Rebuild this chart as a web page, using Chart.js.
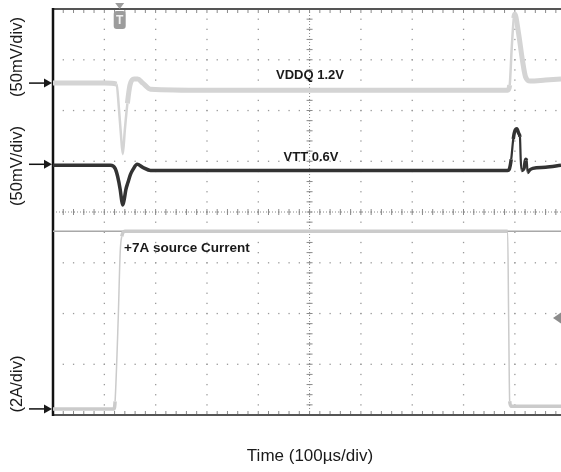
<!DOCTYPE html>
<html>
<head>
<meta charset="utf-8">
<script src="https://cdn.jsdelivr.net/npm/chart.js@4.4.1/dist/chart.umd.min.js"></script>
<style>
  body { margin: 0; background: #fff; }
</style>
</head>
<body>
<canvas id="scope" width="561" height="472"></canvas>
<script>
// VDDQ 1.2V channel: deviation in mV, time in us
const vddqTime = [0, 100, 124, 128, 132, 136, 140, 145, 150, 158, 165, 175, 190, 300, 600, 886, 890, 894, 898, 900, 907, 915, 921, 930, 960, 990];
const vddqMv   = [0, 0,   -1,  -22, -48, -70, -46, -20, -2,  4,   4,   0,   -6,  -7,  -7,  -7,  -2,  35,  64,  68,  50,  22,  6,   2,   3,   4];

// VTT 0.6V channel: deviation in mV
const vttTime = [0,  112, 121, 126, 131, 134, 136, 139, 142, 146, 151, 156, 164, 175, 190, 300, 600, 886, 889, 893, 897, 901, 904, 908, 910, 911.5, 913, 918, 921, 923, 925, 928, 935, 960, 990];
const vttMv   = [-1, -1,  -4,  -12, -25, -36, -40, -34, -25, -18, -10, -5,  0,   -3,  -6,  -6,  -6,  -6,  -5,  5,   25,  34,  35,  30,  27,  5,     -6,  -4,  5,   4,   -8,  -6,  -4,  -3,  -1];

// source current channel in A
const currTime = [0, 119, 121, 127, 131, 134, 140, 500, 886, 888, 890, 893, 990];
const currA    = [0, 0,   0.3, 3.5, 6.2, 6.8, 7,   7,   7,   3.5, 0.3, 0.1, 0.1];

// +7A cursor line
const refTime = [0, 990];
const refA    = [7, 7];

// channel ground markers (divisions from bottom) and scale per division
const vddqPos = 6.54, vttPos = 4.94, currPos = 0.12;
const mvPerDiv = 50, ampPerDiv = 2;
const trigTime = 130;

const FONT = '"Liberation Sans", Arial, sans-serif';

function pts(t, v, pos, perDiv) {
  return t.map((x, i) => ({ x: x, y: pos + v[i] / perDiv }));
}

// fast edges are drawn thinner than the noisy flat parts, like on a scope
function edgeWidth(flat, steep) {
  return ctx => {
    const dx = Math.abs(ctx.p1.parsed.x - ctx.p0.parsed.x);
    const dy = Math.abs(ctx.p1.parsed.y - ctx.p0.parsed.y);
    return dy / Math.max(dx, 0.1) > 0.08 ? steep : flat;
  };
}

const scopePlugin = {
  id: 'scope',
  beforeDatasetsDraw(chart) {
    const ctx = chart.ctx;
    const xs = chart.scales.x, ys = chart.scales.y;
    const a = chart.chartArea;
    ctx.save();
    ctx.fillStyle = '#9a9a9a';
    // dotted vertical grid lines
    for (let i = 1; i <= 9; i++) {
      const x = xs.getPixelForValue(i * 100);
      for (let k = 0; k <= 40; k++) {
        const y = ys.getPixelForValue(k / 5);
        ctx.fillRect(x - 0.6, y - 0.6, 1.3, 1.3);
      }
    }
    // dotted horizontal grid lines
    for (let j = 1; j <= 7; j++) {
      const y = ys.getPixelForValue(j);
      for (let k = 0; k <= 49; k++) {
        const x = xs.getPixelForValue(k * 20);
        ctx.fillRect(x - 0.6, y - 0.6, 1.3, 1.3);
      }
    }
    // centre cross ticks
    ctx.strokeStyle = '#8a8a8a';
    ctx.lineWidth = 1;
    const cx = xs.getPixelForValue(500), cy = ys.getPixelForValue(4);
    ctx.beginPath();
    for (let k = 0; k <= 40; k++) {
      const y = ys.getPixelForValue(k / 5);
      ctx.moveTo(cx - 3, y); ctx.lineTo(cx + 3, y);
    }
    for (let k = 0; k <= 49; k++) {
      const x = xs.getPixelForValue(k * 20);
      ctx.moveTo(x, cy - 3); ctx.lineTo(x, cy + 3);
      ctx.moveTo(x, a.top); ctx.lineTo(x, a.top + 4);
      ctx.moveTo(x, a.bottom); ctx.lineTo(x, a.bottom - 4);
    }
    ctx.stroke();
    ctx.setLineDash([1, 2]);
    ctx.beginPath();
    ctx.moveTo(a.left, cy); ctx.lineTo(a.right, cy);
    ctx.moveTo(cx, a.top); ctx.lineTo(cx, a.bottom);
    ctx.stroke();
    ctx.setLineDash([]);
    // frame
    ctx.strokeStyle = '#555';
    ctx.lineWidth = 2;
    ctx.beginPath();
    ctx.moveTo(a.left, a.top); ctx.lineTo(a.right, a.top);
    ctx.moveTo(a.left, a.bottom); ctx.lineTo(a.right, a.bottom);
    ctx.stroke();
    ctx.strokeStyle = '#111';
    ctx.lineWidth = 2.5;
    ctx.beginPath();
    ctx.moveTo(a.left, a.top - 1); ctx.lineTo(a.left, a.bottom + 1);
    ctx.stroke();
    ctx.restore();
  },
  afterDatasetsDraw(chart) {
    const ctx = chart.ctx;
    const xs = chart.scales.x, ys = chart.scales.y;
    const a = chart.chartArea;
    ctx.save();
    ctx.fillStyle = '#1a1a1a';
    ctx.textAlign = 'center';
    ctx.textBaseline = 'middle';
    ctx.font = 'bold 13px ' + FONT;
    ctx.fillText('VDDQ 1.2V', 310, 75);
    ctx.fillText('VTT 0.6V', 311, 157);
    ctx.textAlign = 'left';
    ctx.font = 'bold 13.5px ' + FONT;
    ctx.fillText('+7A source Current', 124, 248);

    // channel labels and ground arrows
    ctx.font = '16.5px ' + FONT;
    ctx.textAlign = 'center';
    [['(50mV/div)', 57], ['(50mV/div)', 166], ['(2A/div)', 384]].forEach(l => {
      ctx.save();
      ctx.translate(17, l[1]);
      ctx.rotate(-Math.PI / 2);
      ctx.fillText(l[0], 0, 0);
      ctx.restore();
    });
    ctx.strokeStyle = '#111';
    ctx.lineWidth = 1.5;
    [vddqPos, vttPos, currPos].forEach(p => {
      const y = ys.getPixelForValue(p);
      ctx.beginPath();
      ctx.moveTo(29, y); ctx.lineTo(46, y);
      ctx.stroke();
      ctx.beginPath();
      ctx.moveTo(a.left - 1, y); ctx.lineTo(44, y - 4.5); ctx.lineTo(44, y + 4.5);
      ctx.closePath();
      ctx.fill();
    });

    ctx.font = '17px ' + FONT;
    ctx.fillText('Time (100\u00b5s/div)', 310, 456);

    // trigger marker
    const tx = xs.getPixelForValue(trigTime);
    ctx.fillStyle = '#9c9c9c';
    ctx.beginPath();
    ctx.moveTo(tx - 4.5, a.top - 6); ctx.lineTo(tx + 4.5, a.top - 6); ctx.lineTo(tx, a.top);
    ctx.closePath();
    ctx.fill();
    ctx.beginPath();
    ctx.roundRect(tx - 6, a.top + 2, 12, 18, 3);
    ctx.fill();
    ctx.fillStyle = '#f0f0f0';
    ctx.font = 'bold 12px ' + FONT;
    ctx.fillText('T', tx, a.top + 11.5);

    // right side level marker
    ctx.fillStyle = '#8c8c8c';
    ctx.beginPath();
    ctx.moveTo(553, 318); ctx.lineTo(561, 312.5); ctx.lineTo(561, 323.5);
    ctx.closePath();
    ctx.fill();
    ctx.restore();
  }
};

new Chart(document.getElementById('scope').getContext('2d'), {
  type: 'line',
  data: {
    datasets: [
      {
        label: 'VDDQ 1.2V',
        data: pts(vddqTime, vddqMv, vddqPos, mvPerDiv),
        borderColor: '#d4d4d4',
        borderWidth: 5,
        segment: { borderWidth: edgeWidth(5, 2.5) },
        cubicInterpolationMode: 'monotone'
      },
      {
        label: '+7A source Current',
        data: pts(currTime, currA, currPos, ampPerDiv),
        borderColor: '#cbcbcb',
        borderWidth: 3,
        segment: { borderWidth: edgeWidth(3.5, 1.5) },
        cubicInterpolationMode: 'monotone'
      },
      {
        label: '7A cursor',
        data: pts(refTime, refA, currPos, ampPerDiv),
        borderColor: '#a8a8a8',
        borderWidth: 1.5
      },
      {
        label: 'VTT 0.6V',
        data: pts(vttTime, vttMv, vttPos, mvPerDiv),
        borderColor: '#333333',
        borderWidth: 3,
        segment: { borderWidth: edgeWidth(3.5, 2.2) },
        cubicInterpolationMode: 'monotone'
      }
    ]
  },
  options: {
    responsive: false,
    animation: false,
    layout: { padding: { left: 53, top: 9, right: 0, bottom: 57 } },
    elements: { point: { radius: 0 } },
    plugins: { legend: { display: false }, tooltip: { enabled: false } },
    scales: {
      x: { type: 'linear', min: 0, max: 990, display: false },
      y: { type: 'linear', min: 0, max: 8, display: false }
    }
  },
  plugins: [scopePlugin]
});
</script>
</body>
</html>
